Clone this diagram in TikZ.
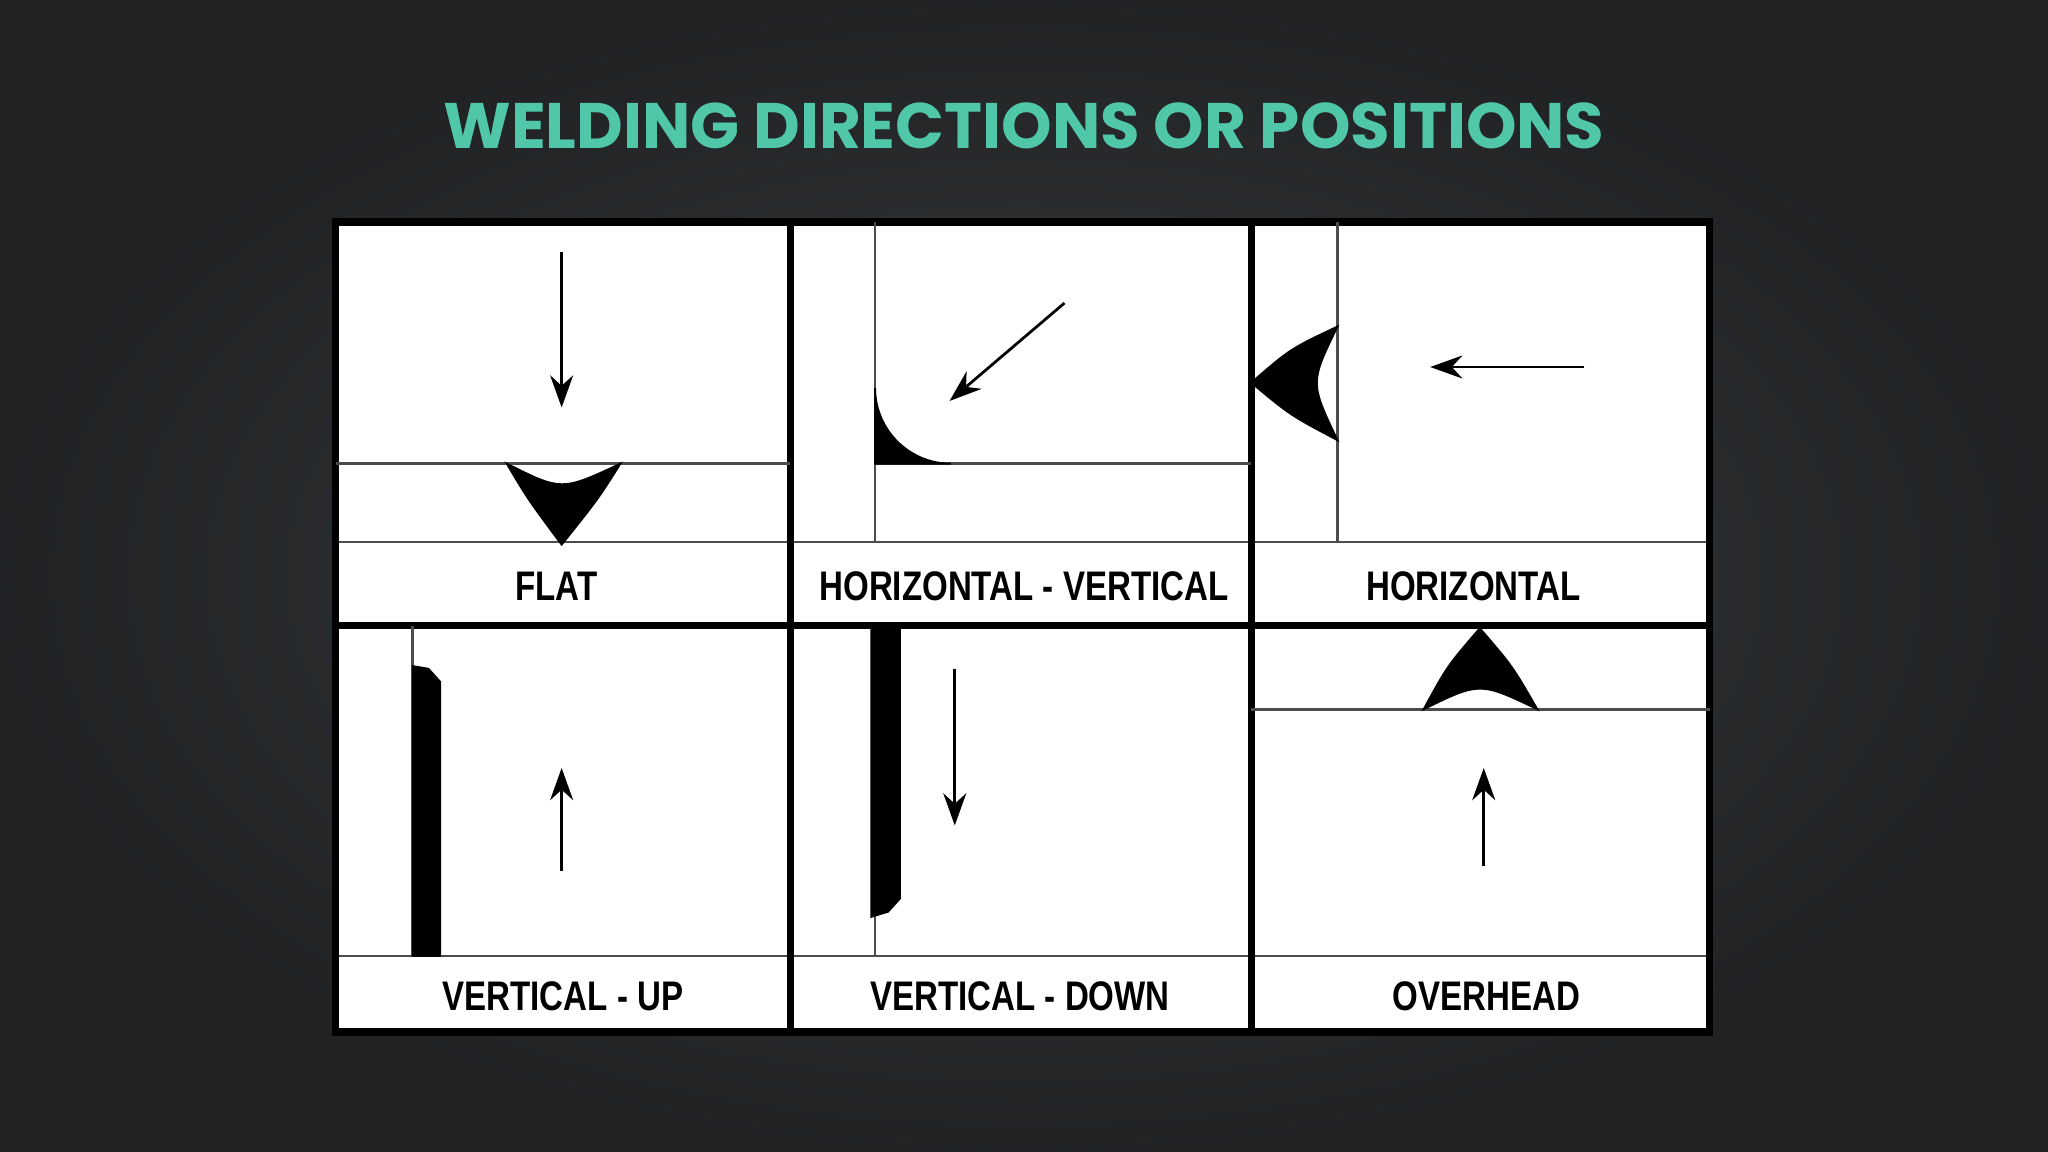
\documentclass[tikz,border=0pt]{standalone}
\usepackage{fontspec}
\setmainfont{Liberation Sans}
\newfontfamily\titlefont{Poppins}
\usetikzlibrary{arrows.meta}
\definecolor{bgc}{HTML}{2E3134}
\definecolor{teal}{HTML}{4FC7A8}
\tikzset{
  cell/.style={draw=black,line width=1.6pt},
  thin/.style={draw=black!70,line width=0.6pt},
  arr/.style={draw=black,line width=0.6pt,-{Stealth[length=7pt,width=5pt]}},
  weld/.style={fill=black,draw=black},
  lab/.style={font=\bfseries\fontsize{9}{10}\selectfont,inner sep=0pt,xscale=0.8},
}
\begin{document}
\begin{tikzpicture}[x=0.01cm,y=-0.01cm]
\useasboundingbox (0,0) rectangle (1568,882);
\shade[inner color=bgc!85!gray,outer color=bgc!70!black] (0,0) rectangle (1568,882);
\node[text=teal,font=\titlefont\bfseries\fontsize{14}{16}\selectfont,inner sep=0pt] (title) at (784,96) {WELDING DIRECTIONS OR POSITIONS};
% frame
\fill[white] (257,170) rectangle (1309,790);
\draw[thin] (257,415) -- (1309,415);
\draw[thin] (257,732) -- (1309,732);
\draw[cell] (257,170) rectangle (1309,790);
\draw[cell] (605,170) -- (605,790);
\draw[cell] (958,170) -- (958,790);
\draw[cell] (257,479) -- (1309,479);
% labels
\node[lab] (l1) at (426,449) {FLAT};
\node[lab] (l2) at (784,449) {HORIZONTAL - VERTICAL};
\node[lab] (l3) at (1128,449) {HORIZONTAL};
\node[lab] (l4) at (431,763) {VERTICAL - UP};
\node[lab] (l5) at (781,763) {VERTICAL - DOWN};
\node[lab] (l6) at (1138,763) {OVERHEAD};
% 1 flat
\draw[thin] (257,355) -- (605,355);
\fill[weld] (388,355) .. controls (430,376) .. (475,355) .. controls (458,382) .. (430,417) .. controls (404,382) .. cycle;
\coordinate (a1s) at (430,193); \coordinate (a1e) at (430,312);
\draw[arr] (a1s) -- (a1e);
% 2 horizontal-vertical
\draw[thin] (670,170) -- (670,415);
\draw[thin] (670,355) -- (958,355);
\fill[weld] (670,355) -- (670,297) .. controls (670,329) and (696,355) .. (728,355) -- cycle;
\coordinate (a2s) at (815,232); \coordinate (a2e) at (727,307);
\draw[arr] (a2s) -- (a2e);
% 3 horizontal
\draw[thin] (1024,170) -- (1024,415);
\fill[weld] (1024,250) .. controls (1003,293) .. (1024,337) .. controls (988,318) .. (958,293) .. controls (988,267) .. cycle;
\coordinate (a3s) at (1213,281); \coordinate (a3e) at (1095,281);
\draw[arr] (a3s) -- (a3e);
% 4 vertical up
\draw[thin] (316,479) -- (316,732);
\fill[weld] (316,732) -- (316,510) -- (328,512) -- (337,522) -- (337,732) -- cycle;
\coordinate (a4s) at (430,667); \coordinate (a4e) at (430,588);
\draw[arr] (a4s) -- (a4e);
% 5 vertical down
\draw[thin] (670,479) -- (670,732);
\fill[weld] (667,479) -- (689,479) -- (689,688) -- (680,698) -- (667,702) -- cycle;
\coordinate (a5s) at (731,512); \coordinate (a5e) at (731,632);
\draw[arr] (a5s) -- (a5e);
% 6 overhead
\draw[thin] (958,543) -- (1309,543);
\fill[weld] (1090,543) .. controls (1133,522) .. (1177,543) .. controls (1158,510) .. (1133,481) .. controls (1108,510) .. cycle;
\coordinate (a6s) at (1136,663); \coordinate (a6e) at (1136,588);
\draw[arr] (a6s) -- (a6e);
\end{tikzpicture}
\end{document}
